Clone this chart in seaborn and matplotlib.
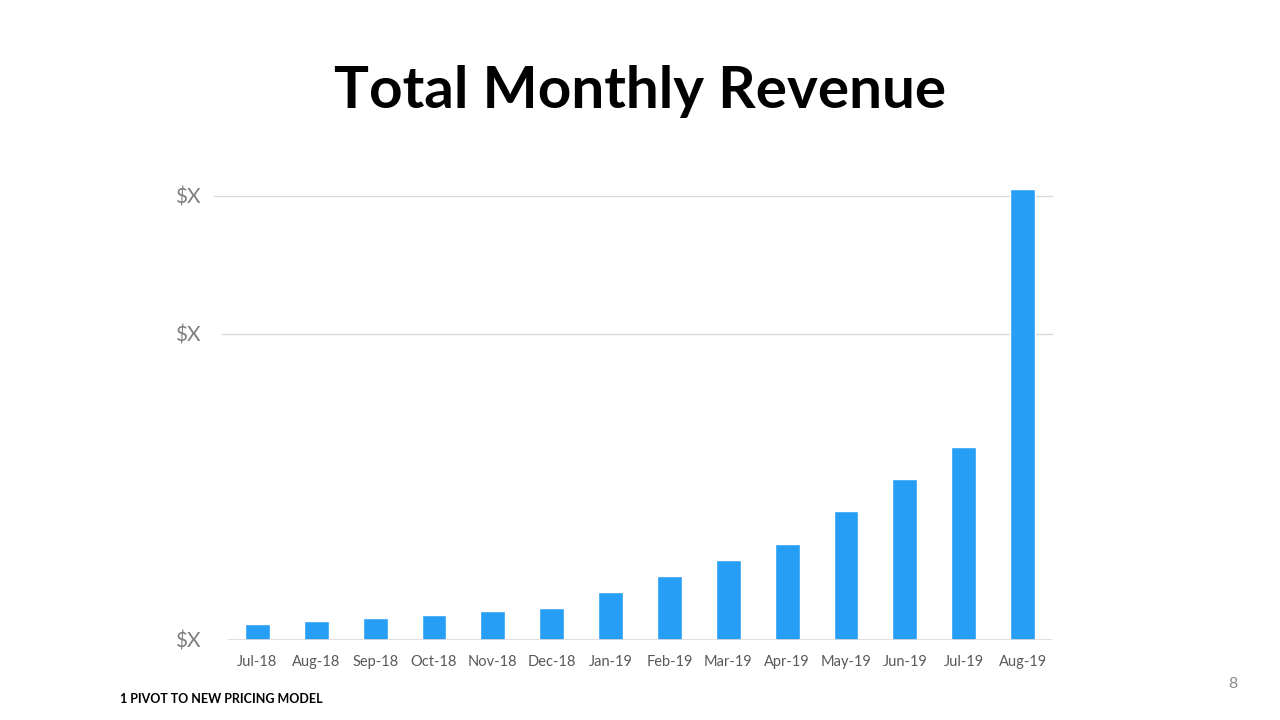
import matplotlib
matplotlib.use("Agg")
import matplotlib.pyplot as plt
import pandas as pd
import seaborn as sns

# Monthly revenue (masked in the source)
months = ["Jul-18", "Aug-18", "Sep-18", "Oct-18", "Nov-18", "Dec-18", "Jan-19",
          "Feb-19", "Mar-19", "Apr-19", "May-19", "Jun-19", "Jul-19", "Aug-19"]
revenue = [16, 19, 22, 25, 29, 32, 48, 64, 80, 96, 129, 161, 193, 451]

# y gridlines as drawn in the source (labels are masked)
grid_values = [0, 306, 444]
grid_labels = ["$X", "$X", "$X"]

df = pd.DataFrame({"month": months, "revenue": revenue})

sns.set_theme(style="white")
plt.rcParams["font.family"] = ["Lato", "DejaVu Sans"]

fig = plt.figure(figsize=(12.8, 7.2), dpi=100)
ax = fig.add_axes([228 / 1280, 1 - 640 / 720, (1052 - 228) / 1280, 460 / 720])

sns.barplot(data=df, x="month", y="revenue", color="#279EF6", width=0.42,
            saturation=1, ax=ax, zorder=3)

ax.set_ylim(0, 460)
ax.set_xlim(-0.5, len(months) - 0.5)
ax.set_yticks(grid_values)
ax.set_yticklabels(grid_labels)
ax.axhline(444, xmin=-0.017, color="#D9D9D9", lw=1, zorder=1, clip_on=False)
ax.axhline(306, xmin=-0.007, color="#D9D9D9", lw=1, zorder=1, clip_on=False)
ax.axhline(0, color="#D9D9D9", lw=1.2, zorder=4)

for side in ["top", "right", "left", "bottom"]:
    ax.spines[side].set_visible(False)
ax.set_xlabel("")
ax.set_ylabel("")
ax.tick_params(axis="y", length=0, pad=27 - 10 * 0.72, labelsize=15, labelcolor="#7F7F7F")
ax.tick_params(axis="x", length=0, pad=11, labelsize=10.5, labelcolor="#595959")

fig.text(0.5, 1 - 91 / 720, "Total Monthly Revenue", ha="center", va="center",
         fontsize=42, fontweight="bold", color="#000000")
fig.text(120 / 1280, 1 - 699 / 720, "1 PIVOT TO NEW PRICING MODEL", ha="left",
         va="center", fontsize=9, fontweight="bold", color="#000000")
fig.text(1233 / 1280, 1 - 684 / 720, "8", ha="center", va="center",
         fontsize=11.5, color="#8C8C8C")

fig.savefig("out.png", dpi=100)
